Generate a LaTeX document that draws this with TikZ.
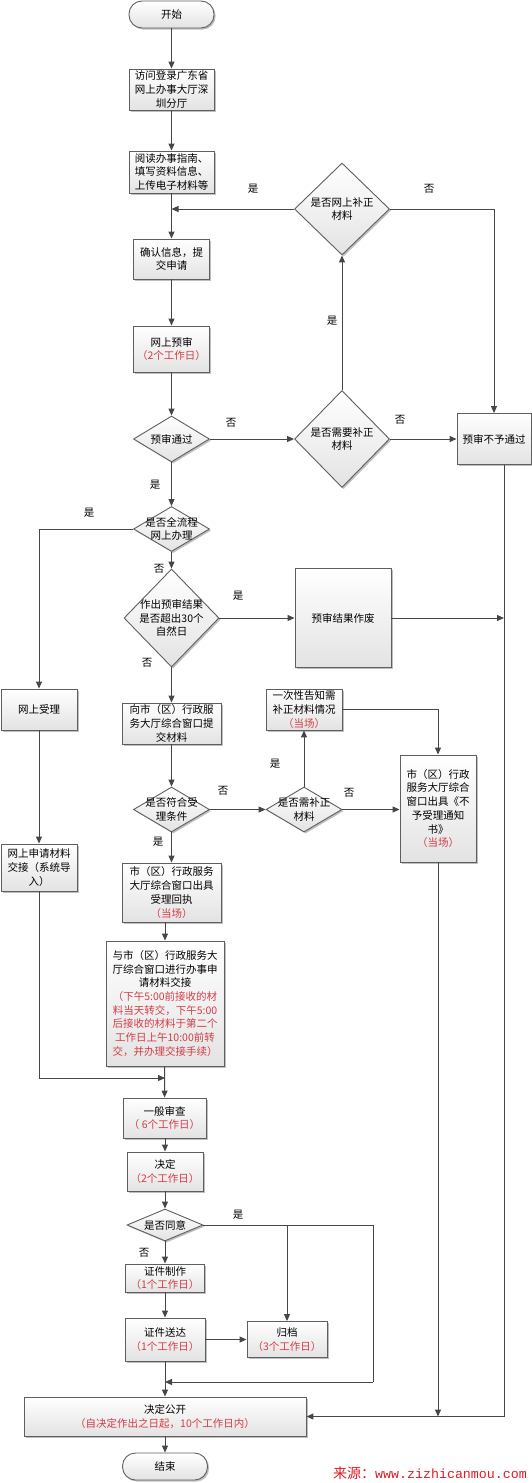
\documentclass[tikz,border=0pt]{standalone}
\usepackage{fontspec}
\setmainfont{Noto Sans CJK SC}
\newfontfamily\wmmono{Liberation Mono}
\usetikzlibrary{shapes.geometric,arrows.meta,shadows}
\definecolor{lc}{RGB}{70,70,70}
\definecolor{bc}{RGB}{95,95,95}
\definecolor{tred}{RGB}{212,60,70}
\definecolor{wred}{RGB}{225,25,35}
\newcommand{\rt}[1]{\textcolor{tred}{#1}}
\begin{document}
\begin{tikzpicture}[x=1pt,y=-1pt,
  every node/.style={font=\fontsize{10.5}{13.7}\selectfont},
  box/.style={draw=bc, line width=0.9pt, top color=white, bottom color=black!11,
    drop shadow={shadow xshift=1.6pt,shadow yshift=-1.6pt,opacity=0.25,fill=black},
    align=center, inner sep=0pt},
  dia/.style={diamond, draw=bc, line width=0.9pt, top color=white, bottom color=black!11,
    drop shadow={shadow xshift=1.6pt,shadow yshift=-1.6pt,opacity=0.25,fill=black},
    inner sep=0pt},
  term/.style={box, rounded corners=13pt},
  arr/.style={draw=lc, line width=1pt, -{Triangle[length=7pt,width=6pt]}},
  ln/.style={draw=lc, line width=1pt},
  lab/.style={inner sep=0pt}
]
\useasboundingbox (0,0) rectangle (532,1483);

% nodes
\node[term, minimum width=85pt, minimum height=27pt] (start) at (171.5,14.5) {开始};
\node[box, minimum width=85pt, minimum height=41pt] (b1) at (171.5,89.5) {访问登录广东省\\网上办事大厅深\\圳分厅};
\node[box, minimum width=85pt, minimum height=42pt] (b2) at (171.5,172) {阅读办事指南、\\填写资料信息、\\上传电子材料等};
\node[dia, minimum width=95pt, minimum height=92pt, label={[align=center]center:{是否网上补正\\材料}}] (dnet) at (342,209) {};
\node[box, minimum width=76pt, minimum height=40pt] (b3) at (171.5,259) {确认信息，提\\交申请};
\node[box, minimum width=76pt, minimum height=46pt] (pre) at (171.5,349) {网上预审\\\rt{（2个工作日）}};
\node[dia, minimum width=76pt, minimum height=46pt, label=center:预审通过] (dpass) at (171.5,439) {};
\node[dia, minimum width=95pt, minimum height=97pt, label={[align=center]center:{是否需要补正\\材料}}] (dneed) at (342,439) {};
\node[box, minimum width=74pt, minimum height=51pt] (reject) at (494,439) {预审不予通过};
\node[dia, minimum width=76pt, minimum height=45pt, label={[align=center]center:{是否全流程\\网上办理}}] (dall) at (171.5,529) {};
\node[dia, minimum width=95pt, minimum height=98pt, label={[align=center]center:{作出预审结果\\是否超出30个\\自然日}}] (d30) at (171.5,618) {};
\node[box, minimum width=96pt, minimum height=99pt] (void) at (343,618) {预审结果作废};
\node[box, minimum width=76pt, minimum height=41pt] (online) at (39,709.5) {网上受理};
\node[box, minimum width=99pt, minimum height=41pt] (submit) at (171.5,723.5) {向市（区）行政服\\务大厅综合窗口提\\交材料};
\node[box, minimum width=76pt, minimum height=41pt] (notify) at (304,709.5) {一次性告知需\\补正材料情况\\\rt{（当场）}};
\node[dia, minimum width=76pt, minimum height=45pt, label={[align=center]center:{是否符合受\\理条件}}] (dok) at (171.5,809.5) {};
\node[dia, minimum width=76pt, minimum height=45pt, label={[align=center]center:{是否需补正\\材料}}] (dfix) at (304,809.5) {};
\node[box, minimum width=76pt, minimum height=107pt] (refuse) at (438,808.5) {市（区）行政\\服务大厅综合\\窗口出具《不\\予受理通知\\书》\\\rt{（当场）}};
\node[box, minimum width=76pt, minimum height=47pt] (transfer) at (39,867.5) {网上申请材料\\交接（系统导\\入）};
\node[box, minimum width=99pt, minimum height=59pt] (receipt) at (171.5,892.5) {市（区）行政服务\\大厅综合窗口出具\\受理回执\\\rt{（当场）}};
\node[box, minimum width=118pt, minimum height=125pt] (handover) at (165,1003.5) {与市（区）行政服务大\\厅综合窗口进行办事申\\请材料交接\\\rt{（下午5:00前接收的材}\\\rt{料当天转交，下午5:00}\\\rt{后接收的材料于第二个}\\\rt{工作日上午10:00前转}\\\rt{交，并办理交接手续）}};
\node[box, minimum width=83pt, minimum height=40pt] (review) at (164.5,1118) {一般审查\\\rt{（ 6个工作日）}};
\node[box, minimum width=76pt, minimum height=39pt] (decide) at (165,1171.5) {决定\\\rt{（2个工作日）}};
\node[dia, minimum width=76pt, minimum height=32pt, label=center:是否同意] (dagree) at (165,1225) {};
\node[box, minimum width=79pt, minimum height=28pt] (make) at (165,1278) {证件制作\\\rt{（1个工作日）}};
\node[box, minimum width=80pt, minimum height=43pt] (deliver) at (165,1339.5) {证件送达\\\rt{（1个工作日）}};
\node[box, minimum width=80pt, minimum height=36pt] (archive) at (287,1339.5) {归档\\\rt{（3个工作日）}};
\node[box, minimum width=282pt, minimum height=39pt] (publish) at (165,1416.5) {决定公开\\\rt{（自决定作出之日起，10个工作日内）}};
\node[term, minimum width=85pt, minimum height=27pt] (end) at (165,1466.5) {结束};
\node[anchor=base west, inner sep=0pt, text=wred] (wm) at (333,1478) {{\fontsize{14}{14}\selectfont 来源：}{\wmmono\fontsize{13.3}{13}\selectfont www.zizhicanmou.com}};

% labels
\node[lab] (l1) at (253,189) {是};
\node[lab] (l2) at (429,189) {否};
\node[lab] (l3) at (231,423) {否};
\node[lab] (l4) at (332,321) {是};
\node[lab] (l5) at (400,420) {否};
\node[lab] (l6) at (155,485) {是};
\node[lab] (l7) at (89,513) {是};
\node[lab] (l8) at (159,569) {否};
\node[lab] (l9) at (238,596) {是};
\node[lab] (l10) at (147,663) {否};
\node[lab] (l11) at (223,791) {否};
\node[lab] (l12) at (275,764) {是};
\node[lab] (l13) at (349,793) {否};
\node[lab] (l14) at (158,842) {是};
\node[lab] (l15) at (238,1215) {是};
\node[lab] (l16) at (144,1253) {否};

% connectors
\draw[arr] (start) -- (b1);
\draw[arr] (b1) -- (b2);
\draw[arr] (b2) -- (b3);
\draw[arr] (dnet.west) -- (dnet.west -| b2.south);
\draw[arr] (dnet.east) -| (reject.north);
\draw[arr] (b3) -- (pre);
\draw[arr] (pre) -- (dpass);
\draw[arr] (dpass.east) -- (dneed.west);
\draw[arr] (dneed.north) -- (dnet.south);
\draw[arr] (dneed.east) -- (reject.west);
\draw[arr] (dpass) -- (dall);
\draw[arr] (dall.west) -| (online.north);
\draw[arr] (dall) -- (d30);
\draw[arr] (d30.east) -- (void.west);
\coordinate (rx) at ([xshift=10pt]reject.south);
\draw[arr] (void.east) -- (void.east -| rx);
\draw[arr] (rx) |- (publish.east);
\draw[arr] (d30) -- (submit);
\draw[arr] (online) -- (transfer);
\draw[arr] (submit) -- (dok);
\draw[arr] (dok.east) -- (dfix.west);
\draw[arr] (dfix.north) -- (notify.south);
\draw[arr] (notify.east) -| (refuse.north);
\draw[arr] (dfix.east) -- (dfix.east -| refuse.west);
\draw[arr] (refuse.south) -- (refuse.south |- publish.east);
\draw[arr] (dok) -- (receipt);
\draw[arr] (receipt.south -| handover.north) -- (handover.north);
\coordinate (j1) at (165,1078);
\draw[arr] (transfer.south) |- (j1);
\draw[arr] (handover) -- (review);
\draw[arr] (review.south -| decide.north) -- (decide.north);
\draw[arr] (decide) -- (dagree);
\draw[arr] (dagree) -- (make);
\coordinate (ra) at (373,1225);
\coordinate (rb) at (373,1382);
\coordinate (j2) at (165,1382);
\draw[ln] (dagree.east) -- (ra) -- (rb);
\draw[arr] (rb) -- (j2);
\draw[arr] (archive.north |- dagree.east) -- (archive.north);
\draw[arr] (make) -- (deliver);
\draw[arr] (deliver.east) -- (archive.west);
\draw[arr] (deliver) -- (publish);
\draw[arr] (publish) -- (end);
\end{tikzpicture}
\end{document}
